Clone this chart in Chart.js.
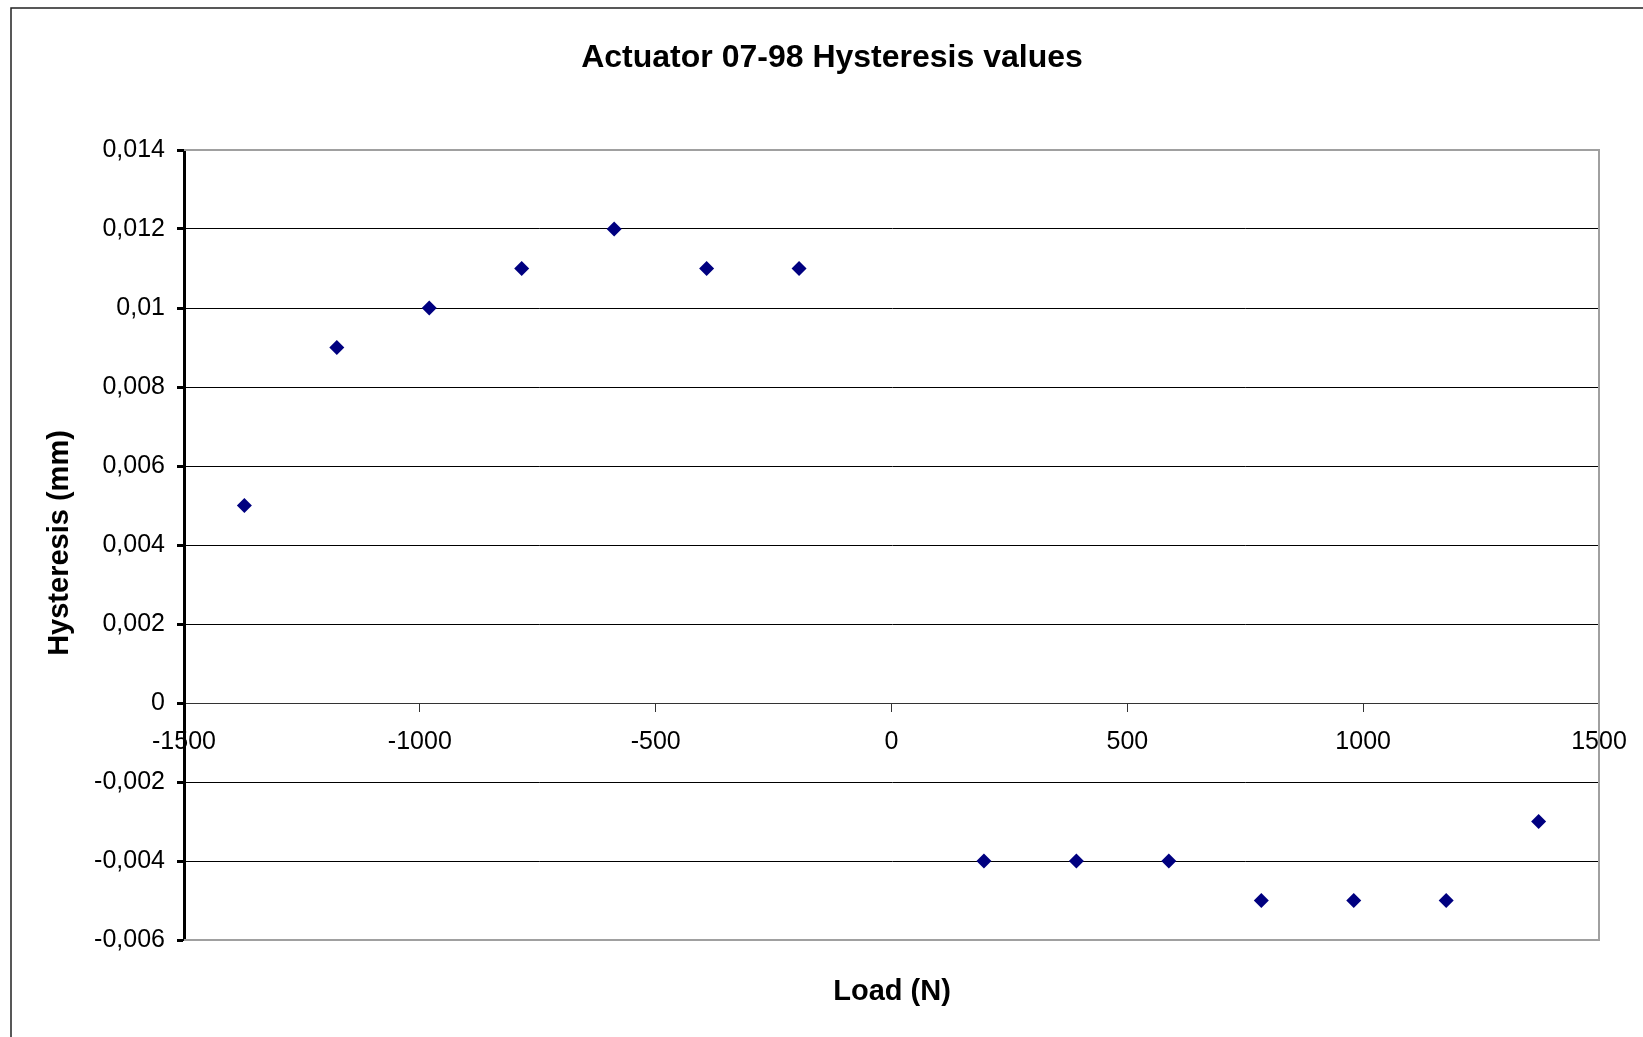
<!DOCTYPE html>
<html>
<head>
<meta charset="utf-8">
<title>Actuator 07-98 Hysteresis values</title>
<script src="https://cdn.jsdelivr.net/npm/chart.js@4.4.1/dist/chart.umd.min.js"></script>
<style>
	html, body { margin: 0; padding: 0; background: #fff; }
	#wrap { width: 1643px; height: 1037px; position: relative; }
</style>
</head>
<body>
<div id="wrap"><canvas id="hystChart" width="1643" height="1037"></canvas></div>
<script>
// load steps (N) and measured hysteresis (mm)
var loads = [-1372, -1176, -980, -784, -588, -392, -196, 196, 392, 588, 784, 980, 1176, 1372];
var hysteresis = [0.005, 0.009, 0.010, 0.011, 0.012, 0.011, 0.011, -0.004, -0.004, -0.004, -0.005, -0.005, -0.005, -0.003];

var xMin = -1500, xMax = 1500, xStep = 500;
var yMin = -0.006, yMax = 0.014, yStep = 0.002;

var chartTitle = 'Actuator 07-98 Hysteresis values';
var xTitle = 'Load (N)';
var yTitle = 'Hysteresis (mm)';

var FONT = '"Liberation Sans", Arial, sans-serif';

var points = [];
for (var i = 0; i < loads.length; i++) {
	points.push({x: loads[i], y: hysteresis[i]});
}

// outer frame, grey plot border and the three titles
var excelFrame = {
	id: 'excelFrame',
	beforeDatasetsDraw: function (chart) {
		var a = chart.chartArea;
		var ctx = chart.ctx;
		ctx.save();
		ctx.strokeStyle = '#a0a0a0';
		ctx.lineWidth = 2;
		ctx.beginPath();
		ctx.moveTo(a.left, a.top);
		ctx.lineTo(a.right, a.top);
		ctx.lineTo(a.right, a.bottom);
		ctx.lineTo(a.left, a.bottom);
		ctx.stroke();
		ctx.restore();
	},
	afterDraw: function (chart) {
		var ctx = chart.ctx;
		ctx.save();
		ctx.strokeStyle = '#222';
		ctx.lineWidth = 1.5;
		ctx.strokeRect(11, 8, 1700, 1100);

		ctx.fillStyle = '#000';
		ctx.textAlign = 'center';
		ctx.textBaseline = 'middle';
		ctx.font = 'bold 32px ' + FONT;
		ctx.fillText(chartTitle, 832, 58);
		ctx.font = 'bold 29px ' + FONT;
		ctx.fillText(xTitle, 892, 992);

		ctx.translate(60, 543);
		ctx.rotate(-Math.PI / 2);
		ctx.fillText(yTitle, 0, 0);
		ctx.restore();
	}
};

var ctx = document.getElementById('hystChart');
var scatter = new Chart(ctx, {
	type: 'scatter',
	data: {
		datasets: [{
			label: 'Hysteresis',
			data: points,
			pointStyle: 'rectRot',
			pointRadius: 7.5,
			pointHoverRadius: 7.5,
			backgroundColor: '#000080',
			borderColor: '#000080',
			borderWidth: 0
		}]
	},
	options: {
		responsive: false,
		animation: false,
		layout: {
			padding: {top: 150, right: 44, bottom: 97, left: 0}
		},
		plugins: {
			legend: {display: false},
			tooltip: {enabled: false}
		},
		scales: {
			x: {
				type: 'linear',
				position: {y: 0},
				min: xMin,
				max: xMax,
				ticks: {
					stepSize: xStep,
					color: '#000',
					padding: 16,
					font: {family: FONT, size: 25},
					callback: function (v) { return String(v); }
				},
				grid: {
					drawOnChartArea: false,
					drawTicks: true,
					tickLength: 8,
					tickColor: '#333',
					tickWidth: 1
				},
				border: {display: true, color: '#333', width: 1}
			},
			y: {
				type: 'linear',
				position: 'left',
				min: yMin,
				max: yMax,
				afterFit: function (scale) { scale.width = 184; },
				ticks: {
					stepSize: yStep,
					color: '#000',
					padding: 12,
					font: {family: FONT, size: 25},
					callback: function (v) {
						return String(Number(v.toFixed(3))).replace('.', ',');
					}
				},
				grid: {
					color: function (c) {
						var v = c.tick ? Number(c.tick.value.toFixed(3)) : 0;
						return (v === yMax || v === yMin) ? 'rgba(0,0,0,0)' : '#000';
					},
					lineWidth: 1,
					tickLength: 7,
					tickColor: '#000',
					tickWidth: 3
				},
				border: {display: true, color: '#000', width: 3}
			}
		}
	},
	plugins: [excelFrame]
});
</script>
</body>
</html>
